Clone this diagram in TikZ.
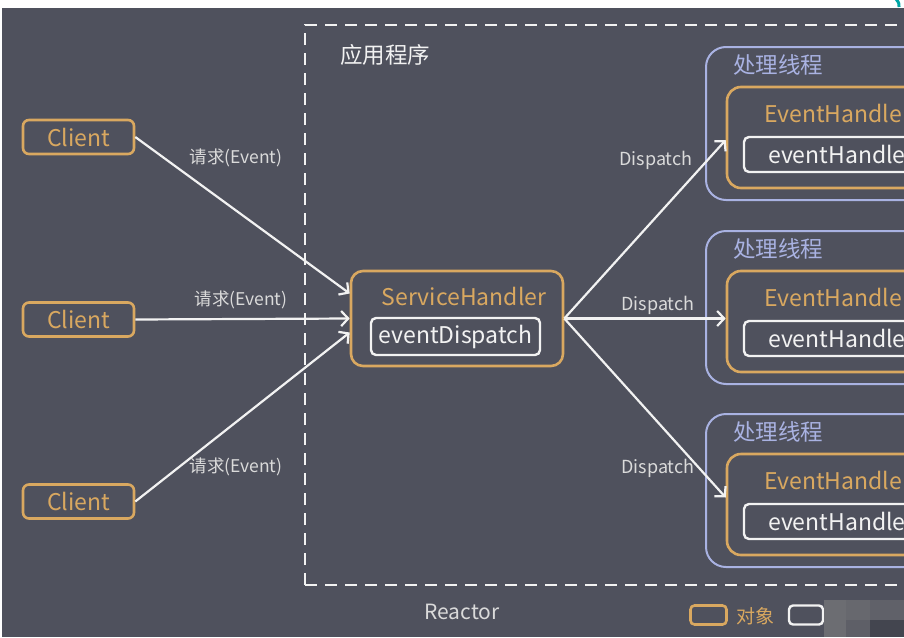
\documentclass[tikz,border=0pt]{standalone}
\usepackage{fontspec}
\setmainfont{Noto Sans CJK SC}
\usetikzlibrary{arrows.meta}
\definecolor{bgc}{HTML}{4F515D}
\definecolor{orng}{HTML}{D9A860}
\definecolor{lav}{HTML}{A9B2E2}
\definecolor{wtxt}{HTML}{F2F2F2}
\definecolor{gtxt}{HTML}{DADADA}
\tikzset{
  objbox/.style={draw=orng,line width=2.6pt,rounded corners=6pt,inner sep=0pt},
  fnbox/.style={draw=wtxt,line width=2.4pt,rounded corners=5pt,inner sep=0pt},
  thrbox/.style={draw=lav,line width=2pt,rounded corners=20pt,inner sep=0pt},
  otxt/.style={text=orng,font=\fontsize{23}{26}\selectfont,inner sep=0pt},
  wt/.style={text=wtxt,font=\fontsize{23}{26}\selectfont,inner sep=0pt},
  lbl/.style={text=gtxt,font=\fontsize{17.5}{20}\selectfont,inner sep=0pt},
  dlbl/.style={text=gtxt,font=\fontsize{18}{20}\selectfont,inner sep=0pt},
  ltxt/.style={text=lav,font=\fontsize{22.5}{25}\selectfont,inner sep=0pt},
  arr/.style={draw=wtxt,line width=2.2pt,-{Straight Barb[length=7pt,width=15pt,line width=2.2pt]}},
}
\begin{document}
\begin{tikzpicture}[x=1pt,y=-1pt]
\clip (0,0) rectangle (904,637);
\fill[white] (0,0) rectangle (904,637);
\fill[bgc] (2,8) rectangle (904,637);
\draw[teal!70!cyan,line width=3pt] (896,-1) .. controls (899,3) .. (899,7);
% Reactor frame
\draw[draw=wtxt,line width=2.6pt,dash pattern=on 12pt off 8pt] (305,585) -- (305,25) -- (920,25);
\draw[draw=wtxt,line width=2.6pt,dash pattern=on 12pt off 8pt] (305,585) -- (920,585);
\node[text=wtxt,font=\fontsize{22.5}{25}\selectfont,inner sep=0pt] (app) at (385,55) {应用程序};
\node[text=gtxt,font=\fontsize{21}{24}\selectfont,inner sep=0pt] (reactor) at (462,612) {Reactor};
% clients
\node[objbox,minimum width=111pt,minimum height=34pt] (c1) at (78.5,137) {};
\node[otxt] at (c1) {Client};
\node[objbox,minimum width=111pt,minimum height=34pt] (c2) at (78.5,319.5) {};
\node[otxt] at (c2) {Client};
\node[objbox,minimum width=111pt,minimum height=34pt] (c3) at (78.5,501.5) {};
\node[otxt] at (c3) {Client};
% service handler
\node[objbox,rounded corners=12pt,minimum width=212pt,minimum height=95pt] (sh) at (457,318.5) {};
\node[otxt] (shl) at (464,296) {ServiceHandler};
\node[fnbox,minimum width=169pt,minimum height=37pt] (ed) at (455.5,336.5) {};
\node[wt] at (ed) {eventDispatch};
% threads
\foreach \i/\t in {1/47,2/231,3/414}{
  \node[thrbox,minimum width=234pt,minimum height=153pt] (th\i) at (823,\t+76.5) {};
  \node[ltxt,anchor=west] (tl\i) at (733,\t+18) {处理线程};
  \node[objbox,rounded corners=14pt,minimum width=203pt,minimum height=101pt] (eh\i) at (828.5,\t+90.5) {};
  \node[otxt,anchor=west] (ehl\i) at (764,\t+66) {EventHandler};
  \node[fnbox,minimum width=176pt,minimum height=35pt] (ehf\i) at (832,\t+107.5) {};
  \node[wt,anchor=west] (ehfl\i) at (768,\t+107.5) {eventHandler};
}
% client arrows
\draw[arr] (c1.east) -- ([yshift=25pt]sh.west);
\draw[arr] (c2.east) -- (sh.west);
\draw[arr] (c3.east) -- ([yshift=-14pt]sh.west);
\node[lbl] (r1) at (236,158) {请求(Event)};
\node[lbl] (r2) at (241,300) {请求(Event)};
\node[lbl] (r3) at (236,467) {请求(Event)};
% dispatch arrows
\draw[arr] (sh.east) -- ([yshift=-2.5pt]eh1.west);
\draw[arr] (sh.east) -- ([yshift=3pt]eh2.west);
\draw[arr] (sh.east) -- ([yshift=7pt]eh3.west);
\node[dlbl] (d1) at (656,160) {Dispatch};
\node[dlbl] (d2) at (658,305) {Dispatch};
\node[dlbl] (d3) at (658,468) {Dispatch};
% legend
\node[objbox,rounded corners=4pt,minimum width=36pt,minimum height=19pt] (lg1) at (708.5,615) {};
\node[text=orng,font=\fontsize{19}{21}\selectfont,inner sep=0pt] (lgt) at (755,616) {对象};
\node[fnbox,rounded corners=4pt,minimum width=34pt,minimum height=19pt] (lg2) at (806,615) {};
% mosaic
\fill[gray!60!bgc] (824,600) rectangle (846,637);
\fill[gray!50!bgc] (846,600) rectangle (870,620);
\fill[gray!30!bgc] (846,620) rectangle (870,637);
\fill[gray!35!bgc] (870,600) rectangle (904,620);
\fill[bgc!85!black] (870,620) rectangle (904,637);
\end{tikzpicture}
\end{document}
